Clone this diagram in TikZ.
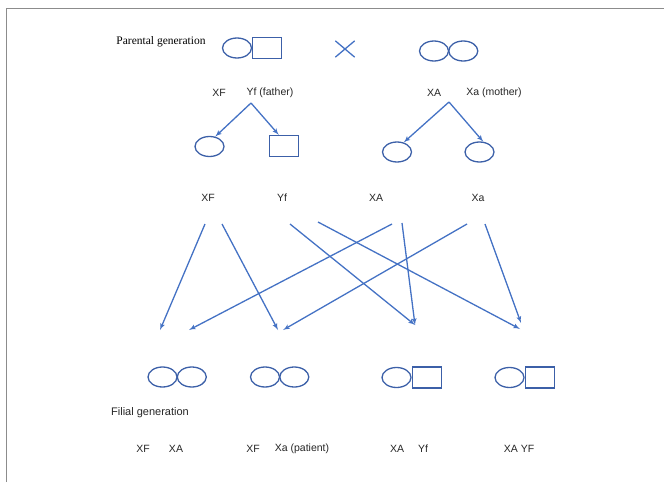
\documentclass[tikz,border=0pt]{standalone}
\usepackage{fontspec}
\setmainfont{Liberation Serif}
\setsansfont{Liberation Sans}
\usetikzlibrary{positioning,shapes.geometric,shapes.misc,arrows}
\definecolor{pedblue}{RGB}{68,114,196}
\definecolor{shapeblue}{RGB}{60,96,168}
\definecolor{framegray}{RGB}{140,140,140}
\tikzstyle{O} = [ellipse,
			draw=shapeblue, line width=1.3pt,
			minimum width=29pt, minimum height=20pt, inner sep=0pt]
\tikzstyle{S} = [rectangle,
			draw=shapeblue, line width=1.3pt,
			minimum width=29pt, minimum height=21pt, inner sep=0pt]
\tikzstyle{T} = [font=\sffamily\fontsize{10.5}{12}\selectfont,
			text=black!85, inner sep=1pt]
\tikzstyle{L} = [draw=pedblue, line width=1.3pt, -latex']

\begin{document}
\begin{tikzpicture}[x=1pt, y=-1pt]
\useasboundingbox (0,0) rectangle (664,482);
\draw[framegray, line width=1pt] (6.5,482) -- (6.5,8.5) -- (664,8.5);

% parents
\node [font=\fontsize{11.5}{13}\selectfont, inner sep=1pt]
(par) at (161,42)
	{Parental generation};

\node [O] (fc) at (237,48) {};
\node [S, right=0pt of fc] (fs) {};

\node [cross out, draw=pedblue, line width=1.3pt,
	minimum width=18pt, minimum height=15pt]
(cross) at (345,49) {};

\node [O] (mc1) at (434,51) {};
\node [O, right=-1pt of mc1] (mc2) {};

\node [T] (fXF) at (219,93) {XF};
\node [T] (fYf) at (270,93) {Yf (father)};
\node [T] (mXA) at (434,93) {XA};
\node [T] (mXa) at (494,93) {Xa (mother)};

% gametes
\coordinate (fa) at (251,103);
\coordinate (ma) at (449,102);

\node [O] (g1) at (209.5,146.5) {};
\node [S] (g2) at (284,146) {};
\node [O] (g3) at (397,152) {};
\node [O] (g4) at (479.5,152) {};

\path[L] (fa) -- (g1.60);
\path[L] (fa) -- (g2.115);
\path[L] (ma) -- (g3.55);
\path[L] (ma) -- (g4.70);

\node [T] (gXF) at (208,198) {XF};
\node [T] (gYf) at (282,198) {Yf};
\node [T] (gXA) at (376,198) {XA};
\node [T] (gXa) at (478,198) {Xa};

% crossing
\coordinate (sXF1) at (205,224);
\coordinate (sXF2) at (222,224);
\coordinate (sYf1) at (290,224);
\coordinate (sYf2) at (318,222);
\coordinate (sXA1) at (392,224);
\coordinate (sXA2) at (402,223);
\coordinate (sXa1) at (467,224);
\coordinate (sXa2) at (485,224);

\coordinate (e1a) at (160,330);
\coordinate (e1b) at (189,330);
\coordinate (e2a) at (278,330);
\coordinate (e2b) at (283,330);
\coordinate (e3) at (415,325);
\coordinate (e4a) at (521,323);
\coordinate (e4b) at (520,329);

\path[L] (sXF1) -- (e1a);
\path[L] (sXA1) -- (e1b);
\path[L] (sXF2) -- (e2a);
\path[L] (sXa1) -- (e2b);
\path[L] (sYf1) -- (e3);
\path[L] (sXA2) -- (e3);
\path[L] (sXa2) -- (e4a);
\path[L] (sYf2) -- (e4b);

% offspring
\node [O] (o1a) at (162.5,377) {};
\node [O, right=-1pt of o1a] (o1b) {};
\node [O] (o2a) at (265,377) {};
\node [O, right=-1pt of o2a] (o2b) {};
\node [O] (o3c) at (396.5,377.5) {};
\node [S, right=0pt of o3c] (o3s) {};
\node [O] (o4c) at (509.5,377.5) {};
\node [S, right=0pt of o4c] (o4s) {};

\node [T, font=\sffamily\fontsize{11}{13}\selectfont]
(fil) at (150,413)
	{Filial generation};

\node [T] (k1a) at (143,449) {XF};
\node [T] (k1b) at (176,449) {XA};
\node [T] (k2a) at (253,449) {XF};
\node [T] (k2b) at (302,449) {Xa (patient)};
\node [T] (k3a) at (397,449) {XA};
\node [T] (k3b) at (423,449) {Yf};
\node [T] (k4) at (519,449) {XA YF};

\end{tikzpicture}
\end{document}
